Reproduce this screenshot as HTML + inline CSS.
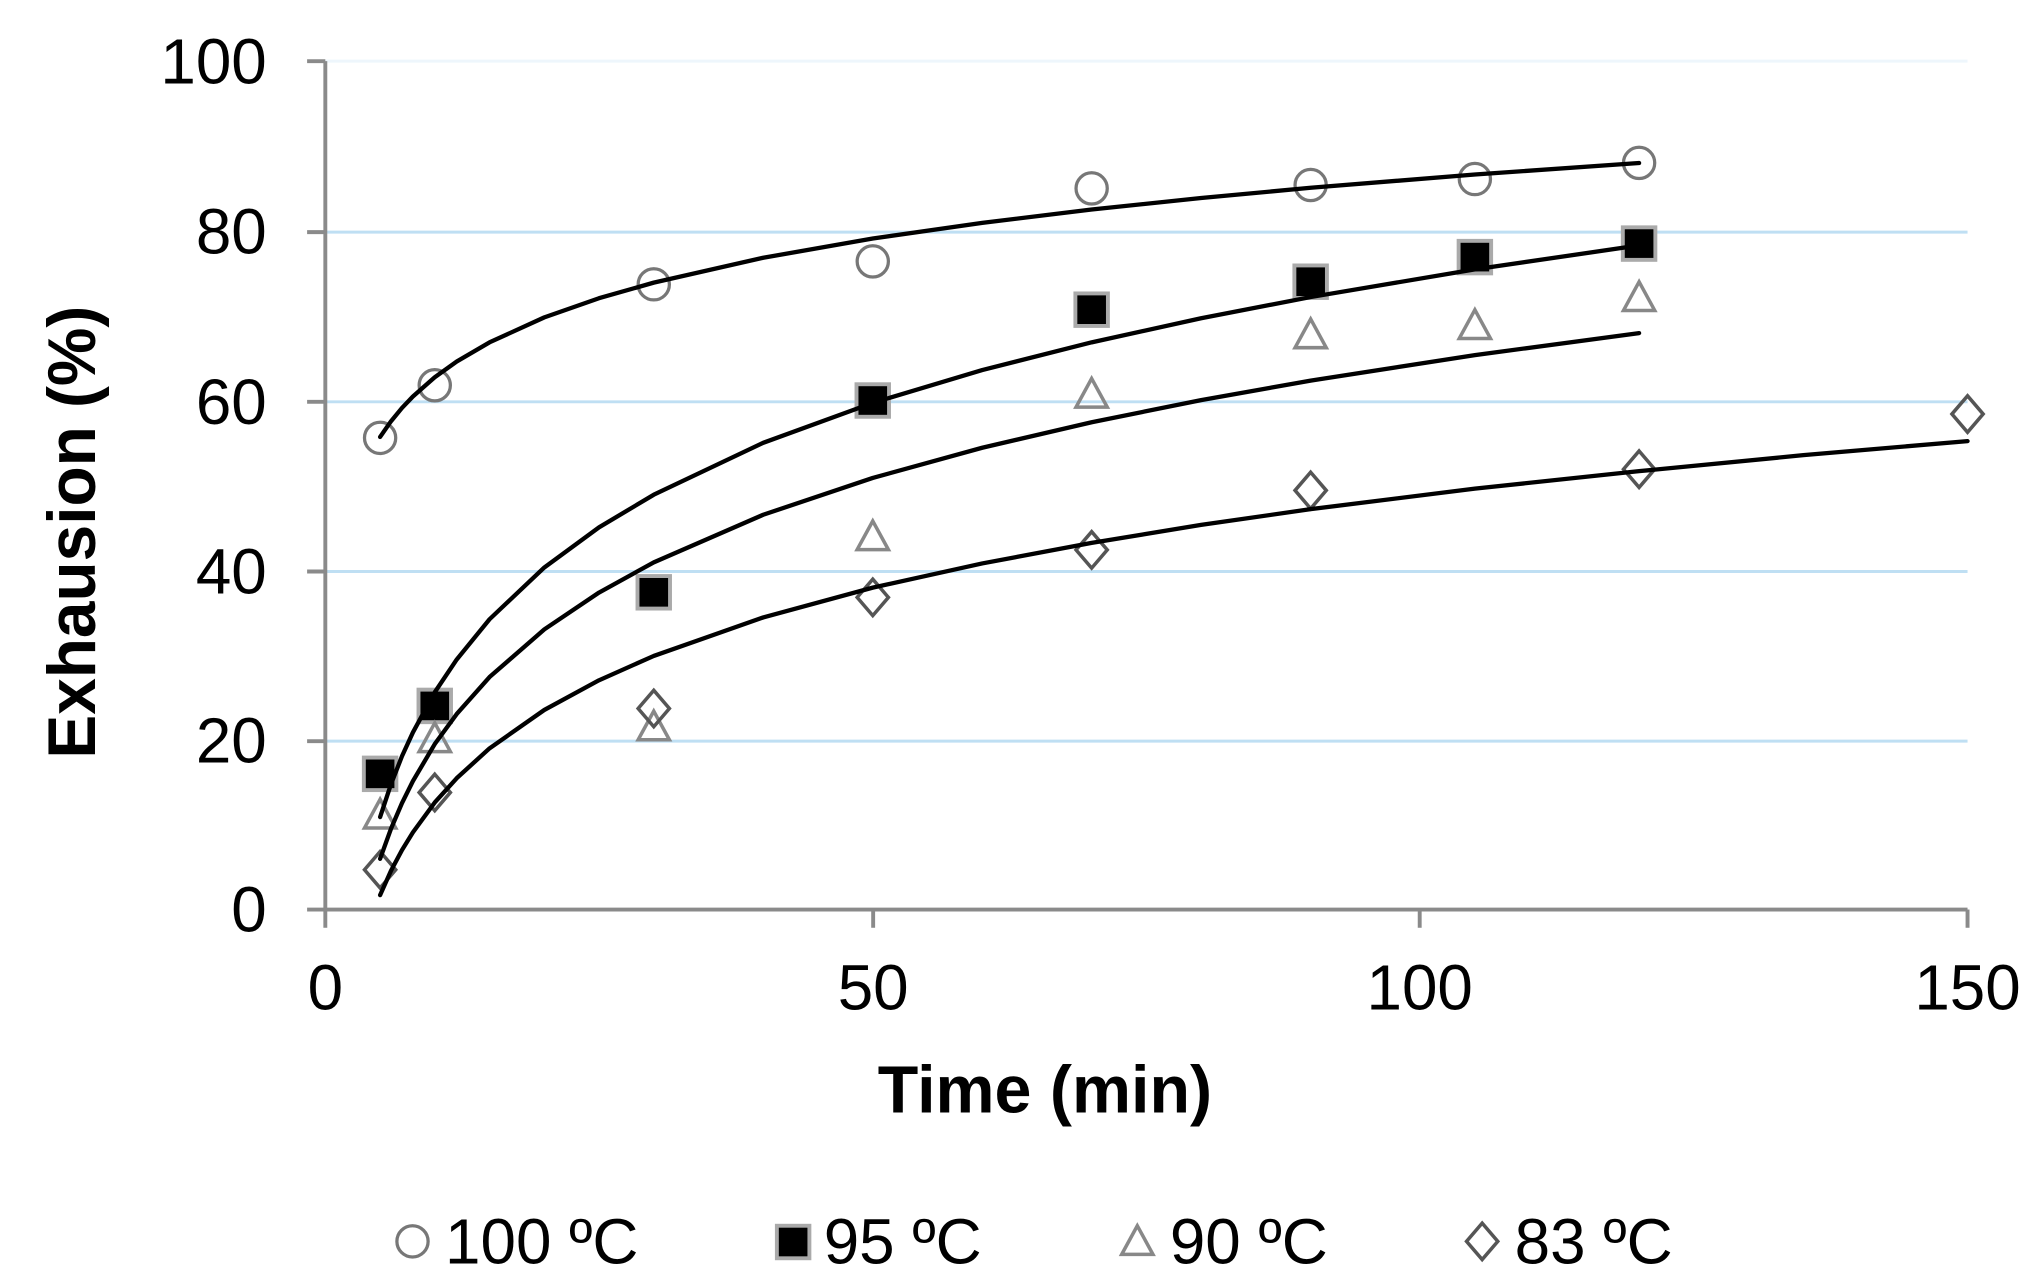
<!DOCTYPE html>
<html><head><meta charset="utf-8"><style>html,body{margin:0;padding:0;background:#fff}svg{display:block}</style></head>
<body>
<svg width="2030" height="1283" viewBox="0 0 1560 986" preserveAspectRatio="none" xmlns="http://www.w3.org/2000/svg" font-family="Liberation Sans, Arial, sans-serif">
<rect width="1560" height="986" fill="#fff"/>
<g stroke="#bfdff3" stroke-width="2.3">
<line x1="250" y1="569.6" x2="1512" y2="569.6"/>
<line x1="250" y1="439.2" x2="1512" y2="439.2"/>
<line x1="250" y1="308.8" x2="1512" y2="308.8"/>
<line x1="250" y1="178.4" x2="1512" y2="178.4"/>
<line x1="250" y1="47" x2="1512" y2="47" stroke="#eef6fc"/>
</g>
<g stroke="#8a8a8a" stroke-width="3">
<line x1="250" y1="47" x2="250" y2="699"/>
<line x1="250" y1="699" x2="1512" y2="699"/>
<line x1="236" y1="699" x2="250" y2="699"/><line x1="236" y1="569.6" x2="250" y2="569.6"/><line x1="236" y1="439.2" x2="250" y2="439.2"/><line x1="236" y1="308.8" x2="250" y2="308.8"/><line x1="236" y1="178.4" x2="250" y2="178.4"/><line x1="236" y1="47" x2="250" y2="47"/>
<line x1="250" y1="699" x2="250" y2="713"/><line x1="671" y1="699" x2="671" y2="713"/><line x1="1091" y1="699" x2="1091" y2="713"/><line x1="1512" y1="699" x2="1512" y2="713"/>
</g>
<g font-size="49" text-anchor="end" fill="#000">
<text x="205" y="716">0</text><text x="205" y="586">20</text><text x="205" y="456">40</text><text x="205" y="326">60</text><text x="205" y="195">80</text><text x="205" y="64">100</text>
</g>
<g font-size="49" text-anchor="middle" fill="#000">
<text x="250" y="776">0</text><text x="671" y="776">50</text><text x="1091" y="776">100</text><text x="1512" y="776">150</text>
</g>
<text x="803" y="855" font-size="51" font-weight="bold" text-anchor="middle">Time (min)</text>
<text transform="translate(73,409) rotate(-90)" font-size="52" font-weight="bold" text-anchor="middle" textLength="348" lengthAdjust="spacingAndGlyphs">Exhausion (%)</text>
<g fill="none" stroke="#777" stroke-width="2.5">
<circle cx="292.1" cy="336.5" r="12"/><circle cx="334.1" cy="296.1" r="12"/><circle cx="502.4" cy="218.5" r="12"/><circle cx="670.7" cy="200.9" r="12"/><circle cx="838.9" cy="144.8" r="12"/><circle cx="1007.2" cy="142.2" r="12"/><circle cx="1133.4" cy="137.6" r="12"/><circle cx="1259.6" cy="125.2" r="12"/>
</g>
<g fill="#000" stroke="#aaa" stroke-width="3">
<rect x="279.6" y="582.2" width="25" height="25"/><rect x="321.6" y="530" width="25" height="25"/><rect x="489.9" y="442.7" width="25" height="25"/><rect x="658.2" y="295.3" width="25" height="25"/><rect x="826.4" y="225.5" width="25" height="25"/><rect x="994.7" y="204" width="25" height="25"/><rect x="1120.9" y="185.1" width="25" height="25"/><rect x="1247.1" y="174.7" width="25" height="25"/>
</g>
<g fill="none" stroke="#888" stroke-width="2.7">
<path d="M292.1 614.3 l-12 22 h24 z"/><path d="M334.1 555.6 l-12 22 h24 z"/><path d="M502.4 546.5 l-12 22 h24 z"/><path d="M670.7 400.4 l-12 22 h24 z"/><path d="M838.9 290.9 l-12 22 h24 z"/><path d="M1007.2 245.2 l-12 22 h24 z"/><path d="M1133.4 238.1 l-12 22 h24 z"/><path d="M1259.6 216.6 l-12 22 h24 z"/>
</g>
<g fill="none" stroke="#555" stroke-width="2.7">
<path d="M292.1 654.4 l12 14 l-12 14 l-12 -14 z"/><path d="M334.1 595 l12 14 l-12 14 l-12 -14 z"/><path d="M502.4 530.5 l12 14 l-12 14 l-12 -14 z"/><path d="M670.7 445.1 l12 14 l-12 14 l-12 -14 z"/><path d="M838.9 408.6 l12 14 l-12 14 l-12 -14 z"/><path d="M1007.2 362.9 l12 14 l-12 14 l-12 -14 z"/><path d="M1259.6 346.6 l12 14 l-12 14 l-12 -14 z"/><path d="M1512 304.2 l12 14 l-12 14 l-12 -14 z"/>
</g>
<g fill="none" stroke="#000" stroke-width="3.3" stroke-linejoin="round" stroke-linecap="round">
<polyline points="292.1,335.8 300.5,323.7 308.9,313.5 317.3,304.7 334.1,289.9 351,277.8 376.2,263.1 418.3,243.9 460.3,229.2 502.4,217.2 586.5,198.1 670.7,183.3 754.8,171.3 838.9,161 923,152.2 1007.2,144.3 1133.4,134.1 1259.6,125.3"/>
<polyline points="292.1,627.9 300.5,602.6 308.9,581.2 317.3,562.9 334.1,532 351,506.8 376.2,475.9 418.3,436.1 460.3,405.3 502.4,380.2 586.5,340.3 670.7,309.6 754.8,284.4 838.9,263.1 923,244.6 1007.2,228.3 1133.4,207 1259.6,188.6"/>
<polyline points="292.1,660 300.5,636.8 308.9,617.2 317.3,600.3 334.1,571.8 351,548.7 376.2,520.3 418.3,483.7 460.3,455.4 502.4,432.2 586.5,395.6 670.7,367.3 754.8,344.1 838.9,324.5 923,307.5 1007.2,292.5 1133.4,272.9 1259.6,256"/>
<polyline points="292.1,687.9 300.5,669.1 308.9,653.3 317.3,639.7 334.1,616.7 351,598 376.2,575.1 418.3,545.6 460.3,522.8 502.4,504.1 586.5,474.5 670.7,451.6 754.8,433 838.9,417.2 923,403.4 1007.2,391.3 1133.4,375.5 1259.6,362.1 1385.8,349.8 1512,339"/>
</g>
<circle cx="317" cy="954" r="12" fill="none" stroke="#777" stroke-width="2.5"/>
<rect x="597" y="942" width="25" height="25" fill="#000" stroke="#aaa" stroke-width="3"/>
<path d="M874 942 l-12 22 h24 z" fill="none" stroke="#888" stroke-width="2.7"/>
<path d="M1139 940 l12 14 l-12 14 l-12 -14 z" fill="none" stroke="#555" stroke-width="2.7"/>
<g font-size="49" fill="#000">
<text x="342" y="971">100 ºC</text><text x="633" y="971">95 ºC</text><text x="899" y="971">90 ºC</text><text x="1164" y="971">83 ºC</text>
</g>
</svg>
</body></html>
